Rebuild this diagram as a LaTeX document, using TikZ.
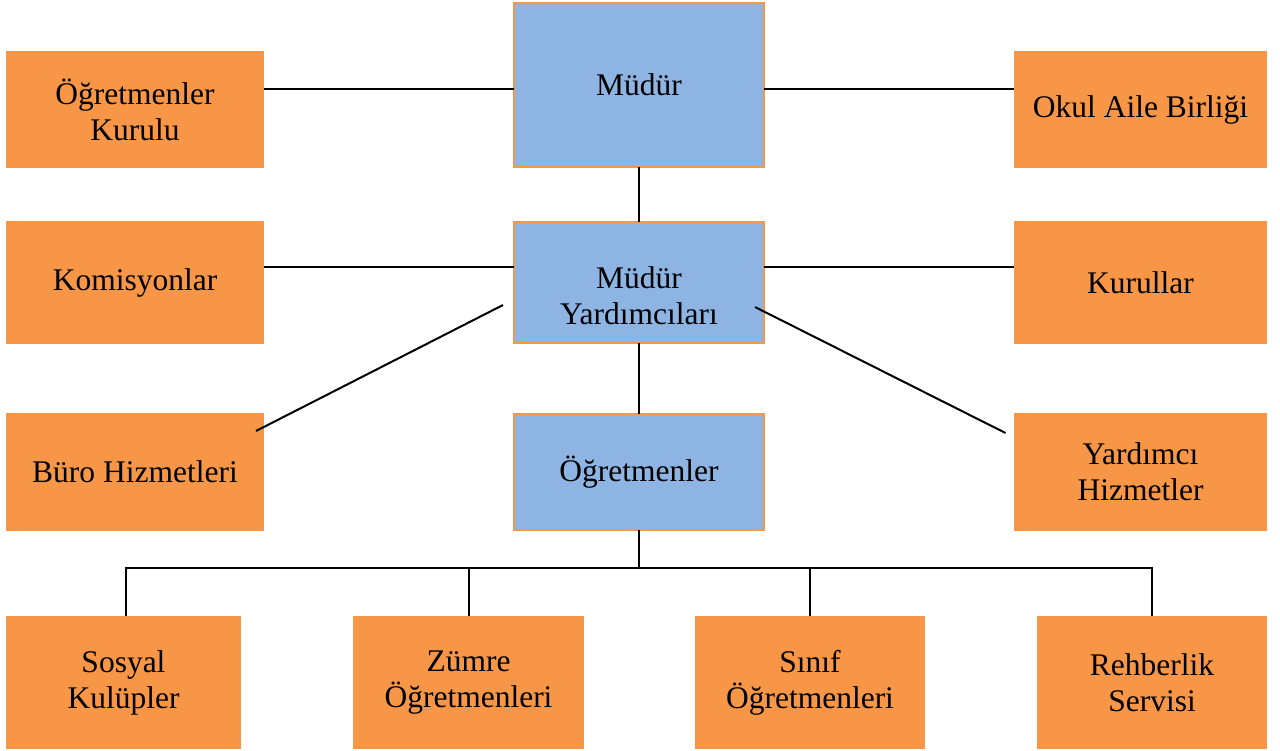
\documentclass[tikz,border=0pt]{standalone}
\usepackage{fontspec}
\setmainfont{Liberation Serif}
\definecolor{boxorange}{HTML}{F79646}
\definecolor{boxblue}{HTML}{8EB4E3}
\begin{document}
\begin{tikzpicture}[x=1pt,y=-1pt,
  every node/.style={inner sep=0pt, outer sep=0pt, align=center,
    font=\fontsize{31.5}{36}\selectfont, text=black},
  obox/.style={fill=boxorange, draw=none, anchor=north west},
  bbox/.style={fill=boxblue, draw=boxorange, line width=2pt, anchor=north west},
  conn/.style={draw=black, line width=2pt}]
\useasboundingbox[fill=white] (0,0) rectangle (1280,751);
% top row
\node[bbox, minimum width=250pt, minimum height=164pt] (mudur) at (514,3) {Müdür};
\node[obox, minimum width=258pt, minimum height=117.5pt] (ogk) at (6,51) {Öğretmenler\\Kurulu};
\node[obox, minimum width=253pt, minimum height=117.5pt] (oab) at (1014,51) {Okul Aile Birliği};
% second row
\node[bbox, minimum width=250pt, minimum height=121pt] (my) at (514,222) {};
\node (mylabel) at (639,296) {Müdür\\Yardımcıları};
\node[obox, minimum width=258pt, minimum height=123pt] (kom) at (6,221) {Komisyonlar};
\node[obox, minimum width=253pt, minimum height=123pt] (kur) at (1014,221) {Kurullar};
% third row
\node[obox, minimum width=258pt, minimum height=118pt] (buro) at (6,413) {Büro Hizmetleri};
\node[bbox, minimum width=250pt, minimum height=116pt] (ogr) at (514,414) {Öğretmenler};
\node[obox, minimum width=253pt, minimum height=118pt] (yh) at (1014,413) {Yardımcı\\Hizmetler};
% bottom row
\node[obox, minimum width=235pt, minimum height=133pt] (sos) at (6,616) {Sosyal\\Kulüpler};
\node[obox, minimum width=231pt, minimum height=133pt] (zum) at (353,616) {Zümre\\Öğretmenleri};
\node[obox, minimum width=230pt, minimum height=133pt] (sin) at (695,616) {Sınıf\\Öğretmenleri};
\node[obox, minimum width=230pt, minimum height=133pt] (reh) at (1037,616) {Rehberlik\\Servisi};
% connectors
\coordinate (mw) at ([yshift=-4pt]mudur.west);
\coordinate (me) at ([yshift=-4pt]mudur.east);
\draw[conn] (mw) -- (mw -| ogk.east);
\draw[conn] (me) -- (me -| oab.west);
\draw[conn] (mudur.south) -- (my.north);
\coordinate (myw) at ([yshift=15.5pt]my.west);
\coordinate (mye) at ([yshift=15.5pt]my.east);
\draw[conn] (myw) -- (myw -| kom.east);
\draw[conn] (mye) -- (mye -| kur.west);
\coordinate (dl1) at ([shift={(-11,22.5)}]my.west);
\coordinate (dl2) at ([shift={(-8,-41)}]buro.east);
\draw[conn] (dl1) -- (dl2);
\coordinate (dr1) at ([shift={(-9,24.5)}]my.east);
\coordinate (dr2) at ([shift={(-8.5,-39)}]yh.west);
\draw[conn] (dr1) -- (dr2);
\draw[conn] (my.south) -- (ogr.north);
\coordinate (bus) at ([yshift=-38pt]ogr.south);
\coordinate (sosn) at ([xshift=2.5pt]sos.north);
\draw[conn] (ogr.south) -- (bus);
\draw[conn] (sosn) -- (sosn |- bus) -- (reh.north |- bus) -- (reh.north);
\draw[conn] (zum.north) -- (zum.north |- bus);
\draw[conn] (sin.north) -- (sin.north |- bus);
\end{tikzpicture}
\end{document}
